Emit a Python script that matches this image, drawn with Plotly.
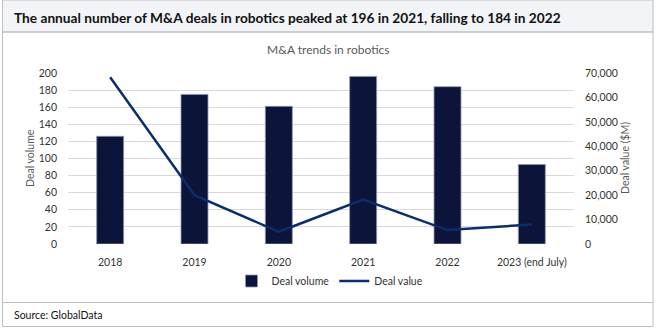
import plotly.graph_objects as go

years = ["2018", "2019", "2020", "2021", "2022", "2023 (end July)"]
deal_volume = [126, 175, 161, 196, 184, 93]
deal_value = [68300, 20000, 5000, 18200, 5700, 8000]

W, H = 657, 330
L, R, T, B = 68, 83, 73, 86
pw, ph = W - L - R, H - T - B

def px(x):
    return (x - L) / pw

def py(y):
    return (H - B - y) / ph

FONT = "Lato"

fig = go.Figure()
fig.add_trace(go.Bar(
    x=years, y=deal_volume, name="Deal volume",
    marker=dict(color="#0c1539", line=dict(color="#8f97b3", width=0.8)),
    yaxis="y",
))
fig.add_trace(go.Scatter(
    x=years, y=deal_value, name="Deal value", mode="lines",
    line=dict(color="#0b2d6b", width=2.5),
    yaxis="y2",
))

shapes = [
    dict(type="rect", xref="paper", yref="paper", x0=px(2.5), x1=px(653), y0=py(0), y1=py(32),
         fillcolor="#f2f4f7", line=dict(color="#bfbfbf", width=1), layer="below"),
    dict(type="rect", xref="paper", yref="paper", x0=px(2.5), x1=px(653), y0=py(32), y1=py(326.5),
         fillcolor="rgba(0,0,0,0)", line=dict(color="#bfbfbf", width=1), layer="below"),
    dict(type="line", xref="paper", yref="paper", x0=px(2.5), x1=px(653), y0=py(302.5), y1=py(302.5),
         line=dict(color="#bfbfbf", width=1)),
]

annotations = [
    dict(text="<b>The annual number of M&A deals in robotics peaked at 196 in 2021, falling to 184 in 2022</b>",
         xref="paper", yref="paper", x=px(12), y=py(17), xanchor="left", yanchor="middle",
         showarrow=False, font=dict(family=FONT, size=13.7, color="#111111")),
    dict(text="M&A trends in robotics", xref="paper", yref="paper", x=px(328), y=py(50),
         xanchor="center", yanchor="middle", showarrow=False,
         font=dict(family=FONT, size=12, color="#595959")),
    dict(text="Source: GlobalData", xref="paper", yref="paper", x=px(12), y=py(314.5),
         xanchor="left", yanchor="middle", showarrow=False,
         font=dict(family=FONT, size=10.5, color="#111111")),
    dict(text="Deal volume", xref="paper", yref="paper", x=px(30), y=py(158),
         xanchor="center", yanchor="middle", textangle=-90, showarrow=False,
         font=dict(family=FONT, size=10.5, color="#595959")),
    dict(text="Deal value ($M)", xref="paper", yref="paper", x=px(625), y=py(158),
         xanchor="center", yanchor="middle", textangle=-90, showarrow=False,
         font=dict(family=FONT, size=10.5, color="#595959")),
]

fig.update_layout(
    width=W, height=H,
    margin=dict(l=L, r=R, t=T, b=B, pad=0),
    paper_bgcolor="white", plot_bgcolor="white",
    font=dict(family=FONT, size=10.5, color="#333333"),
    bargap=0.68,
    showlegend=True,
    legend=dict(orientation="h", x=px(330), xanchor="center", y=py(281), yanchor="middle",
                font=dict(family=FONT, size=10.5, color="#333333"), itemwidth=30,
                bgcolor="rgba(0,0,0,0)"),
    xaxis=dict(showgrid=False, showline=False, ticks="", ticklabelstandoff=10,
               tickfont=dict(size=10.5)),
    yaxis=dict(range=[0, 200], dtick=20, showgrid=True, gridcolor="#d9d9d9", gridwidth=1,
               zeroline=False, showline=False, ticks="", ticklabelstandoff=10),
    yaxis2=dict(range=[0, 70000], dtick=10000, overlaying="y", side="right", showgrid=False,
                zeroline=False, showline=False, tickformat=",", ticks="", ticklabelstandoff=10),
    shapes=shapes,
    annotations=annotations,
)

fig.write_html("out.html")
